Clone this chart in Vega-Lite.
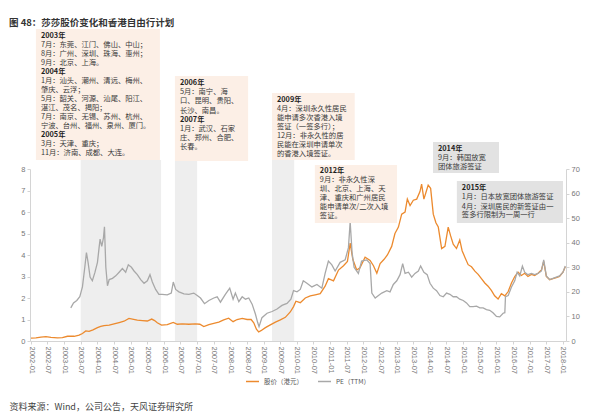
{
  "$schema": "https://vega.github.io/schema/vega-lite/v6.json",
  "width": 536,
  "height": 172,
  "autosize": {"type": "none"},
  "padding": {"left": 30, "top": 169, "right": 25, "bottom": 73},
  "background": "white",
  "title": {"text": "图 48：莎莎股价变化和香港自由行计划", "anchor": "start", "frame": "group", "dx": -21, "offset": 2, "fontSize": 9.5, "font": "Noto Sans CJK SC", "fontWeight": "bold", "color": "#333333"},
  "config": {"view": {"stroke": null}, "font": "Noto Sans CJK SC"},
  "datasets": {
    "price": [
      {"date": "2002-01-01", "price": 0.13}, {"date": "2002-02-24", "price": 0.15}, {"date": "2002-04-20", "price": 0.18}, {"date": "2002-06-14", "price": 0.2}, {"date": "2002-08-08", "price": 0.17}, {"date": "2002-10-19", "price": 0.15}, {"date": "2002-12-12", "price": 0.16},
      {"date": "2003-02-06", "price": 0.22}, {"date": "2003-04-20", "price": 0.22}, {"date": "2003-06-14", "price": 0.27}, {"date": "2003-07-20", "price": 0.35}, {"date": "2003-08-26", "price": 0.47}, {"date": "2003-10-01", "price": 0.45}, {"date": "2003-11-13", "price": 0.52},
      {"date": "2004-01-01", "price": 0.62}, {"date": "2004-02-06", "price": 0.68}, {"date": "2004-03-14", "price": 0.72}, {"date": "2004-05-09", "price": 0.74}, {"date": "2004-07-02", "price": 0.8}, {"date": "2004-08-26", "price": 0.86}, {"date": "2004-10-19", "price": 0.92}, {"date": "2004-12-12", "price": 1.05},
      {"date": "2005-01-19", "price": 1.02}, {"date": "2005-03-14", "price": 0.97}, {"date": "2005-05-09", "price": 0.95}, {"date": "2005-07-02", "price": 0.93}, {"date": "2005-08-19", "price": 1.02}, {"date": "2005-09-20", "price": 0.95}, {"date": "2005-10-19", "price": 0.85}, {"date": "2005-12-05", "price": 0.74},
      {"date": "2006-02-06", "price": 0.76}, {"date": "2006-04-13", "price": 0.86}, {"date": "2006-05-27", "price": 0.78}, {"date": "2006-07-20", "price": 0.8}, {"date": "2006-10-01", "price": 0.78}, {"date": "2006-12-12", "price": 0.8},
      {"date": "2007-01-30", "price": 0.78}, {"date": "2007-03-14", "price": 0.67}, {"date": "2007-05-09", "price": 0.76}, {"date": "2007-07-02", "price": 0.82}, {"date": "2007-08-26", "price": 0.88}, {"date": "2007-10-19", "price": 0.98}, {"date": "2007-12-12", "price": 1.06},
      {"date": "2008-01-30", "price": 0.9}, {"date": "2008-03-14", "price": 1.0}, {"date": "2008-05-09", "price": 1.05}, {"date": "2008-07-02", "price": 1.0}, {"date": "2008-08-15", "price": 1.0}, {"date": "2008-09-13", "price": 0.85}, {"date": "2008-10-12", "price": 0.55}, {"date": "2008-11-06", "price": 0.42}, {"date": "2008-12-01", "price": 0.48},
      {"date": "2009-01-19", "price": 0.62}, {"date": "2009-03-14", "price": 0.75}, {"date": "2009-05-09", "price": 0.88}, {"date": "2009-07-02", "price": 0.98}, {"date": "2009-08-26", "price": 1.1}, {"date": "2009-10-19", "price": 1.35}, {"date": "2009-11-24", "price": 1.6}, {"date": "2009-12-20", "price": 1.85},
      {"date": "2010-02-06", "price": 1.78}, {"date": "2010-04-02", "price": 2.0}, {"date": "2010-05-27", "price": 2.1}, {"date": "2010-07-20", "price": 2.15}, {"date": "2010-09-13", "price": 2.2}, {"date": "2010-11-06", "price": 2.55}, {"date": "2010-12-12", "price": 2.9},
      {"date": "2011-02-06", "price": 2.8}, {"date": "2011-04-02", "price": 3.3}, {"date": "2011-05-27", "price": 3.5}, {"date": "2011-07-09", "price": 3.7}, {"date": "2011-08-08", "price": 4.55}, {"date": "2011-09-06", "price": 3.8}, {"date": "2011-10-19", "price": 3.3}, {"date": "2011-11-24", "price": 3.4},
      {"date": "2012-01-19", "price": 3.9}, {"date": "2012-03-14", "price": 3.75}, {"date": "2012-04-20", "price": 3.5}, {"date": "2012-05-27", "price": 3.15}, {"date": "2012-07-02", "price": 3.6}, {"date": "2012-08-15", "price": 3.8}, {"date": "2012-09-20", "price": 4.0}, {"date": "2012-11-06", "price": 4.4}, {"date": "2012-12-12", "price": 5.0},
      {"date": "2013-01-19", "price": 5.3}, {"date": "2013-02-24", "price": 5.9}, {"date": "2013-04-02", "price": 6.0}, {"date": "2013-04-27", "price": 6.6}, {"date": "2013-05-27", "price": 6.3}, {"date": "2013-07-02", "price": 6.55}, {"date": "2013-08-08", "price": 6.6}, {"date": "2013-09-13", "price": 6.95}, {"date": "2013-10-01", "price": 7.3}, {"date": "2013-10-26", "price": 6.6}, {"date": "2013-11-24", "price": 7.0}, {"date": "2013-12-12", "price": 7.25},
      {"date": "2014-01-08", "price": 7.1}, {"date": "2014-02-06", "price": 5.9}, {"date": "2014-03-07", "price": 5.5}, {"date": "2014-04-02", "price": 5.3}, {"date": "2014-05-09", "price": 4.3}, {"date": "2014-06-14", "price": 4.4}, {"date": "2014-07-20", "price": 5.3}, {"date": "2014-08-15", "price": 4.9}, {"date": "2014-09-13", "price": 4.5}, {"date": "2014-10-19", "price": 4.3}, {"date": "2014-11-24", "price": 4.7}, {"date": "2014-12-20", "price": 4.2},
      {"date": "2015-01-19", "price": 3.9}, {"date": "2015-02-24", "price": 3.55}, {"date": "2015-04-02", "price": 3.45}, {"date": "2015-05-09", "price": 3.25}, {"date": "2015-06-14", "price": 3.1}, {"date": "2015-07-20", "price": 2.9}, {"date": "2015-08-26", "price": 2.7}, {"date": "2015-10-01", "price": 2.55}, {"date": "2015-11-06", "price": 2.35}, {"date": "2015-12-12", "price": 2.1},
      {"date": "2016-01-19", "price": 1.95}, {"date": "2016-02-24", "price": 2.2}, {"date": "2016-04-02", "price": 2.1}, {"date": "2016-05-09", "price": 2.3}, {"date": "2016-06-14", "price": 2.7}, {"date": "2016-07-20", "price": 3.0}, {"date": "2016-08-26", "price": 3.2}, {"date": "2016-10-01", "price": 3.05}, {"date": "2016-11-06", "price": 3.15}, {"date": "2016-12-12", "price": 3.0},
      {"date": "2017-01-19", "price": 3.1}, {"date": "2017-02-24", "price": 3.05}, {"date": "2017-04-02", "price": 3.15}, {"date": "2017-05-09", "price": 3.3}, {"date": "2017-06-03", "price": 3.7}, {"date": "2017-07-02", "price": 3.0}, {"date": "2017-08-08", "price": 2.85}, {"date": "2017-09-13", "price": 2.9}, {"date": "2017-10-19", "price": 2.95}, {"date": "2017-11-24", "price": 3.0},
      {"date": "2018-01-01", "price": 3.2}, {"date": "2018-01-26", "price": 3.45}
    ],
    "pe": [
      {"date": "2003-03-14", "pe": 13.5}, {"date": "2003-04-13", "pe": 15.5}, {"date": "2003-05-19", "pe": 16.5}, {"date": "2003-06-21", "pe": 18.0}, {"date": "2003-07-20", "pe": 22.0}, {"date": "2003-08-15", "pe": 30.0}, {"date": "2003-09-02", "pe": 36.0}, {"date": "2003-09-20", "pe": 32.0}, {"date": "2003-10-12", "pe": 26.0}, {"date": "2003-11-06", "pe": 24.5}, {"date": "2003-12-05", "pe": 28.0},
      {"date": "2004-01-01", "pe": 32.0}, {"date": "2004-01-19", "pe": 38.0}, {"date": "2004-01-30", "pe": 41.5}, {"date": "2004-02-17", "pe": 38.5}, {"date": "2004-03-07", "pe": 42.0}, {"date": "2004-03-18", "pe": 46.5}, {"date": "2004-04-02", "pe": 30.0}, {"date": "2004-04-20", "pe": 22.5}, {"date": "2004-05-09", "pe": 25.0}, {"date": "2004-06-14", "pe": 25.5}, {"date": "2004-07-20", "pe": 26.5}, {"date": "2004-08-26", "pe": 28.0}, {"date": "2004-10-01", "pe": 29.5}, {"date": "2004-11-06", "pe": 28.0}, {"date": "2004-12-05", "pe": 31.0},
      {"date": "2005-01-08", "pe": 30.0}, {"date": "2005-02-06", "pe": 28.5}, {"date": "2005-03-14", "pe": 27.0}, {"date": "2005-04-20", "pe": 25.0}, {"date": "2005-05-27", "pe": 23.5}, {"date": "2005-07-02", "pe": 24.5}, {"date": "2005-07-31", "pe": 27.0}, {"date": "2005-08-26", "pe": 24.0}, {"date": "2005-10-01", "pe": 21.0}, {"date": "2005-11-06", "pe": 19.0}, {"date": "2005-12-12", "pe": 19.0},
      {"date": "2006-02-06", "pe": 18.8}, {"date": "2006-03-22", "pe": 19.5}, {"date": "2006-04-13", "pe": 24.0}, {"date": "2006-05-09", "pe": 21.0}, {"date": "2006-06-14", "pe": 20.0}, {"date": "2006-08-08", "pe": 19.2}, {"date": "2006-10-01", "pe": 19.0}, {"date": "2006-11-24", "pe": 19.5},
      {"date": "2007-01-01", "pe": 18.5}, {"date": "2007-02-06", "pe": 17.5}, {"date": "2007-03-22", "pe": 15.2}, {"date": "2007-05-09", "pe": 16.5}, {"date": "2007-07-02", "pe": 17.5}, {"date": "2007-08-08", "pe": 18.0}, {"date": "2007-09-13", "pe": 15.8}, {"date": "2007-11-06", "pe": 19.0}, {"date": "2007-12-24", "pe": 21.5},
      {"date": "2008-01-30", "pe": 17.0}, {"date": "2008-02-24", "pe": 19.5}, {"date": "2008-04-02", "pe": 16.0}, {"date": "2008-05-09", "pe": 18.0}, {"date": "2008-06-14", "pe": 17.0}, {"date": "2008-07-20", "pe": 17.5}, {"date": "2008-08-26", "pe": 15.0}, {"date": "2008-10-01", "pe": 11.0}, {"date": "2008-10-26", "pe": 7.5}, {"date": "2008-11-10", "pe": 5.8}, {"date": "2008-12-12", "pe": 9.5},
      {"date": "2009-02-06", "pe": 11.3}, {"date": "2009-04-02", "pe": 12.0}, {"date": "2009-05-27", "pe": 13.0}, {"date": "2009-07-20", "pe": 14.5}, {"date": "2009-09-13", "pe": 15.3}, {"date": "2009-10-26", "pe": 17.0}, {"date": "2009-11-24", "pe": 20.5},
      {"date": "2010-01-01", "pe": 20.0}, {"date": "2010-02-06", "pe": 21.0}, {"date": "2010-03-11", "pe": 24.5}, {"date": "2010-04-20", "pe": 23.5}, {"date": "2010-06-14", "pe": 22.0}, {"date": "2010-08-08", "pe": 23.0}, {"date": "2010-10-01", "pe": 21.5}, {"date": "2010-11-06", "pe": 27.5}, {"date": "2010-12-12", "pe": 32.5},
      {"date": "2011-01-19", "pe": 31.0}, {"date": "2011-02-24", "pe": 28.5}, {"date": "2011-04-20", "pe": 32.0}, {"date": "2011-06-14", "pe": 33.0}, {"date": "2011-07-20", "pe": 38.0}, {"date": "2011-08-08", "pe": 48.5}, {"date": "2011-08-29", "pe": 36.0}, {"date": "2011-09-20", "pe": 30.0}, {"date": "2011-11-06", "pe": 27.5}, {"date": "2011-12-12", "pe": 32.5},
      {"date": "2012-02-06", "pe": 33.0}, {"date": "2012-03-14", "pe": 31.5}, {"date": "2012-04-02", "pe": 19.5}, {"date": "2012-05-09", "pe": 17.5}, {"date": "2012-06-14", "pe": 18.5}, {"date": "2012-07-20", "pe": 19.5}, {"date": "2012-09-13", "pe": 20.5}, {"date": "2012-10-19", "pe": 20.0}, {"date": "2012-11-24", "pe": 23.0},
      {"date": "2013-01-01", "pe": 24.5}, {"date": "2013-02-06", "pe": 27.0}, {"date": "2013-03-07", "pe": 31.5}, {"date": "2013-04-02", "pe": 27.5}, {"date": "2013-05-09", "pe": 28.0}, {"date": "2013-06-14", "pe": 26.0}, {"date": "2013-07-20", "pe": 27.5}, {"date": "2013-08-26", "pe": 28.5}, {"date": "2013-09-20", "pe": 30.5}, {"date": "2013-10-26", "pe": 28.0}, {"date": "2013-12-01", "pe": 27.0},
      {"date": "2014-01-01", "pe": 23.5}, {"date": "2014-02-06", "pe": 21.5}, {"date": "2014-03-14", "pe": 20.5}, {"date": "2014-04-20", "pe": 18.5}, {"date": "2014-05-27", "pe": 18.0}, {"date": "2014-07-02", "pe": 19.5}, {"date": "2014-08-08", "pe": 19.0}, {"date": "2014-09-13", "pe": 18.0}, {"date": "2014-10-19", "pe": 18.0}, {"date": "2014-11-24", "pe": 17.0},
      {"date": "2015-01-01", "pe": 16.5}, {"date": "2015-02-06", "pe": 15.5}, {"date": "2015-03-14", "pe": 14.0}, {"date": "2015-04-20", "pe": 14.0}, {"date": "2015-05-27", "pe": 14.2}, {"date": "2015-07-02", "pe": 13.5}, {"date": "2015-08-08", "pe": 13.5}, {"date": "2015-09-13", "pe": 12.8}, {"date": "2015-10-19", "pe": 12.5}, {"date": "2015-11-24", "pe": 11.5},
      {"date": "2016-01-01", "pe": 10.0}, {"date": "2016-02-06", "pe": 9.8}, {"date": "2016-03-14", "pe": 11.3}, {"date": "2016-04-02", "pe": 11.5}, {"date": "2016-04-09", "pe": 18.0}, {"date": "2016-05-09", "pe": 18.5}, {"date": "2016-06-14", "pe": 22.0}, {"date": "2016-07-20", "pe": 24.5}, {"date": "2016-08-15", "pe": 28.0}, {"date": "2016-09-13", "pe": 26.5}, {"date": "2016-10-12", "pe": 30.5}, {"date": "2016-11-06", "pe": 28.0}, {"date": "2016-12-12", "pe": 27.0},
      {"date": "2017-01-19", "pe": 27.5}, {"date": "2017-02-24", "pe": 27.0}, {"date": "2017-04-02", "pe": 27.5}, {"date": "2017-05-09", "pe": 28.5}, {"date": "2017-06-03", "pe": 33.0}, {"date": "2017-07-02", "pe": 26.5}, {"date": "2017-08-08", "pe": 25.0}, {"date": "2017-09-13", "pe": 25.5}, {"date": "2017-10-19", "pe": 26.0}, {"date": "2017-11-24", "pe": 26.5},
      {"date": "2018-01-01", "pe": 28.0}, {"date": "2018-01-26", "pe": 30.5}
    ],
    "bands": [
      {"date": "2003-07-01", "end": "2005-11-30", "top": 8.42},
      {"date": "2006-05-01", "end": "2006-12-31", "top": 8.37},
      {"date": "2009-04-01", "end": "2009-12-01", "top": 8.42}
    ],
    "boxes": [
      {"date": "2002-02-24", "end": "2005-11-17", "top": 14.51, "bottom": 8.42, "kind": "自由行"},
      {"date": "2006-05-01", "end": "2008-07-13", "top": 12.33, "bottom": 8.37, "kind": "自由行"},
      {"date": "2009-04-01", "end": "2011-09-27", "top": 11.53, "bottom": 8.42, "kind": "自由行"},
      {"date": "2010-07-16", "end": "2013-01-04", "top": 8.19, "bottom": 5.49, "kind": "自由行"},
      {"date": "2014-02-03", "end": "2016-01-29", "top": 9.26, "bottom": 7.81, "kind": "签证"},
      {"date": "2014-10-23", "end": "2018-01-01", "top": 7.44, "bottom": 5.49, "kind": "签证"}
    ],
    "heads": [
      {"date": "2002-02-24", "y": 14.2, "text": "2003年"},
      {"date": "2002-02-24", "y": 12.52, "text": "2004年"},
      {"date": "2002-02-24", "y": 9.57, "text": "2005年"},
      {"date": "2006-05-01", "y": 11.99, "text": "2006年"},
      {"date": "2006-05-01", "y": 10.3, "text": "2007年"},
      {"date": "2009-04-01", "y": 11.21, "text": "2009年"},
      {"date": "2010-07-16", "y": 7.91, "text": "2012年"},
      {"date": "2014-02-03", "y": 8.92, "text": "2014年"},
      {"date": "2014-10-23", "y": 7.13, "text": "2015年"}
    ],
    "lines": [
      {"date": "2002-02-24", "y": 13.78, "text": "7月：东莞、江门、佛山、中山；"},
      {"date": "2002-02-24", "y": 13.36, "text": "8月：广州、深圳、珠海、惠州；"},
      {"date": "2002-02-24", "y": 12.94, "text": "9月：北京、上海。"},
      {"date": "2002-02-24", "y": 12.1, "text": "1月：汕头、潮州、清远、梅州、"},
      {"date": "2002-02-24", "y": 11.67, "text": "肇庆、云浮；"},
      {"date": "2002-02-24", "y": 11.25, "text": "5月：韶关、河源、汕尾、阳江、"},
      {"date": "2002-02-24", "y": 10.83, "text": "湛江、茂名、揭阳；"},
      {"date": "2002-02-24", "y": 10.41, "text": "7月：南京、无锡、苏州、杭州、"},
      {"date": "2002-02-24", "y": 9.99, "text": "宁波、台州、福州、泉州、厦门。"},
      {"date": "2002-02-24", "y": 9.15, "text": "3月：天津、重庆；"},
      {"date": "2002-02-24", "y": 8.73, "text": "11月：济南、成都、大连。"},
      {"date": "2006-05-01", "y": 11.57, "text": "5月：南宁、海"},
      {"date": "2006-05-01", "y": 11.15, "text": "口、昆明、贵阳、"},
      {"date": "2006-05-01", "y": 10.72, "text": "长沙、南昌。"},
      {"date": "2006-05-01", "y": 9.88, "text": "1月：武汉、石家"},
      {"date": "2006-05-01", "y": 9.46, "text": "庄、郑州、合肥、"},
      {"date": "2006-05-01", "y": 9.04, "text": "长春。"},
      {"date": "2009-04-01", "y": 10.79, "text": "4月：深圳永久性居民"},
      {"date": "2009-04-01", "y": 10.37, "text": "能申请多次香港入境"},
      {"date": "2009-04-01", "y": 9.95, "text": "签证（一签多行）；"},
      {"date": "2009-04-01", "y": 9.53, "text": "12月：非永久性的居"},
      {"date": "2009-04-01", "y": 9.12, "text": "民能在深圳申请单次"},
      {"date": "2009-04-01", "y": 8.7, "text": "的香港入境签证。"},
      {"date": "2010-07-16", "y": 7.49, "text": "9月：非永久性深"},
      {"date": "2010-07-16", "y": 7.07, "text": "圳、北京、上海、天"},
      {"date": "2010-07-16", "y": 6.65, "text": "津、重庆和广州居民"},
      {"date": "2010-07-16", "y": 6.23, "text": "能申请单次/二次入境"},
      {"date": "2010-07-16", "y": 5.81, "text": "签证。"},
      {"date": "2014-02-03", "y": 8.5, "text": "9月：韩国放宽"},
      {"date": "2014-02-03", "y": 8.1, "text": "团体旅游签证"},
      {"date": "2014-10-23", "y": 6.68, "text": "1月：日本放宽团体旅游签证"},
      {"date": "2014-10-23", "y": 6.25, "text": "4月：深圳居民的新签证由一"},
      {"date": "2014-10-23", "y": 5.85, "text": "签多行限制为一周一行"}
    ],
    "seps": [{"y": 14.84}, {"y": -2.56}]
  },
  "encoding": {
    "x": {
      "field": "date", "type": "temporal",
      "scale": {"type": "utc", "domain": [{"year": 2001, "month": 12, "date": 21, "utc": true}, {"year": 2018, "month": 2, "date": 3, "utc": true}]},
      "axis": {
        "labelExpr": "utcFormat(datum.value, '%Y-%m')", "tickCount": {"interval": "month", "step": 6},
        "labelAngle": 90, "labelFontSize": 7.5, "labelFont": "Liberation Sans", "labelColor": "#777777",
        "labelFlush": false, "labelOverlap": false, "labelPadding": 2,
        "domainColor": "#d4d4d4", "tickColor": "#d4d4d4", "tickSize": 3, "grid": false,
        "title": "资料来源：Wind，公司公告，天风证券研究所", "titleX": -21, "titleY": 65, "titleAlign": "left", "titleAnchor": "start",
        "titleBaseline": "middle", "titleFontSize": 9, "titleFontWeight": "normal", "titleColor": "#444444", "titleFont": "Noto Sans CJK SC"
      }
    }
  },
  "layer": [
    {
      "data": {"name": "seps"},
      "mark": {"type": "rule", "stroke": "#f2d8bc", "strokeWidth": 1.5},
      "encoding": {
        "x": {
          "datum": {"year": 2001, "month": 2, "date": 16, "utc": true}, "type": "temporal",
          "scale": {"type": "utc", "domain": [{"year": 2001, "month": 12, "date": 21, "utc": true}, {"year": 2018, "month": 2, "date": 3, "utc": true}]},
          "axis": {
            "labelExpr": "utcFormat(datum.value, '%Y-%m')", "tickCount": {"interval": "month", "step": 6},
            "labelAngle": 90, "labelFontSize": 7.5, "labelFont": "Liberation Sans", "labelColor": "#777777",
            "labelFlush": false, "labelOverlap": false, "labelPadding": 2,
            "domainColor": "#d4d4d4", "tickColor": "#d4d4d4", "tickSize": 3, "grid": false,
            "title": "资料来源：Wind，公司公告，天风证券研究所", "titleX": -21, "titleY": 65, "titleAlign": "left", "titleAnchor": "start",
            "titleBaseline": "middle", "titleFontSize": 9, "titleFontWeight": "normal", "titleColor": "#444444", "titleFont": "Noto Sans CJK SC"
          }
        },
        "x2": {"datum": {"year": 2018, "month": 11, "date": 3, "utc": true}},
        "y": {"field": "y", "type": "quantitative", "scale": {"domain": [0, 8], "nice": false, "zero": false}, "axis": null}
      }
    },
    {
      "data": {"name": "bands"},
      "mark": {"type": "rect", "fill": "#eeeeee"},
      "encoding": {
        "x2": {"field": "end"},
        "y": {"field": "top", "type": "quantitative", "scale": {"domain": [0, 8], "nice": false, "zero": false}, "axis": null},
        "y2": {"datum": 0}
      }
    },
    {
      "data": {"name": "price"},
      "mark": {"type": "line", "strokeWidth": 1.3},
      "encoding": {
        "y": {
          "field": "price", "type": "quantitative",
          "scale": {"domain": [0, 8], "nice": false, "zero": false},
          "axis": {"orient": "left", "values": [0, 1, 2, 3, 4, 5, 6, 7, 8], "title": null, "grid": false,
            "labelFontSize": 7.5, "labelFont": "Liberation Sans", "labelColor": "#777777", "labelPadding": 2,
            "domainColor": "#d4d4d4", "tickColor": "#d4d4d4", "tickSize": 3}
        },
        "color": {
          "datum": "股价（港元）",
          "scale": {"domain": ["股价（港元）", "PE（TTM）"], "range": ["#ec8a2e", "#a8a8a8"]},
          "legend": {"orient": "none", "legendX": 215, "legendY": 205, "direction": "horizontal", "title": null,
            "symbolType": "stroke", "symbolSize": 169, "symbolStrokeWidth": 1.5,
            "labelFontSize": 6.5, "labelFont": "Noto Sans CJK SC", "labelColor": "#555555", "labelOffset": 4, "columnPadding": 12}
        }
      }
    },
    {
      "data": {"name": "pe"},
      "mark": {"type": "line", "strokeWidth": 1.3},
      "encoding": {
        "y": {
          "field": "pe", "type": "quantitative",
          "scale": {"domain": [0, 70], "nice": false, "zero": false},
          "axis": {"orient": "right", "values": [0, 10, 20, 30, 40, 50, 60, 70], "title": null, "grid": false,
            "labelFontSize": 7.5, "labelFont": "Liberation Sans", "labelColor": "#777777", "labelPadding": 2,
            "domainColor": "#d4d4d4", "tickColor": "#d4d4d4", "tickSize": 3}
        },
        "color": {"datum": "PE（TTM）", "scale": {"domain": ["股价（港元）", "PE（TTM）"], "range": ["#ec8a2e", "#a8a8a8"]}}
      }
    },
    {
      "data": {"name": "boxes"},
      "mark": {"type": "rect"},
      "encoding": {
        "x2": {"field": "end"},
        "y": {"field": "top", "type": "quantitative", "scale": {"domain": [0, 8], "nice": false, "zero": false}, "axis": null},
        "y2": {"field": "bottom"},
        "fill": {"field": "kind", "type": "nominal", "scale": {"domain": ["自由行", "签证"], "range": ["#fcefe6", "#e2e2e2"]}, "legend": null}
      }
    },
    {
      "data": {"name": "heads"},
      "mark": {"type": "text", "align": "left", "baseline": "middle", "dx": 5, "fontSize": 7.3, "font": "Noto Sans CJK SC", "fontWeight": "bold", "color": "#1e1e1e"},
      "encoding": {
        "y": {"field": "y", "type": "quantitative", "scale": {"domain": [0, 8], "nice": false, "zero": false}, "axis": null},
        "text": {"field": "text"}
      }
    },
    {
      "data": {"name": "lines"},
      "mark": {"type": "text", "align": "left", "baseline": "middle", "dx": 5, "fontSize": 7.3, "font": "Noto Sans CJK SC", "color": "#3a3a3a"},
      "encoding": {
        "y": {"field": "y", "type": "quantitative", "scale": {"domain": [0, 8], "nice": false, "zero": false}, "axis": null},
        "text": {"field": "text"}
      }
    }
  ],
  "resolve": {"scale": {"y": "independent"}, "axis": {"y": "independent"}}
}
